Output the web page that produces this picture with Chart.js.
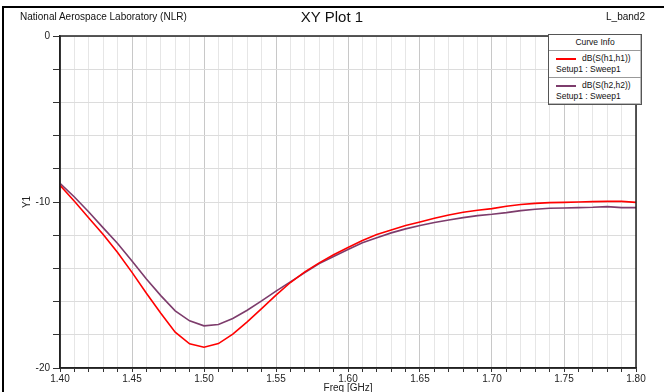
<!DOCTYPE html>
<html>
<head>
<meta charset="utf-8">
<script src="https://cdn.jsdelivr.net/npm/chart.js@4.4.1/dist/chart.umd.min.js"></script>
<style>
  html, body { margin: 0; padding: 0; background: #fff; }
  #wrap { position: relative; width: 664px; height: 392px; overflow: hidden;
          font-family: "Liberation Sans", Arial, sans-serif; }
  #frame { position: absolute; left: 2px; top: 6px; right: -4px; bottom: -4px;
           border-top: 2px solid #000; border-left: 2px solid #000; }
  canvas { position: absolute; left: 0; top: 0; }
  .hdr { position: absolute; white-space: nowrap; color: #111; }
  #org { left: 20px; top: 11px; font-size: 10px; }
  #ttl { left: 0; width: 664px; top: 8px; text-align: center; font-size: 15px; }
  #tag { right: 19px; top: 11px; font-size: 10px; }
  #legend { position: absolute; left: 548px; top: 34px; width: 92px; background: #fff;
            border: 1px solid #555; font-size: 8.5px; color: #111; box-shadow: inset -1px -1px 0 #bbb; }
  #legend .head { text-align: center; height: 15px; line-height: 15px; border-bottom: 1px solid #999; }
  #legend .item { padding: 2px 0 2px 7px; }
  #legend .item + .item { border-top: 1px solid #999; }
  #legend .row1 { height: 11px; line-height: 11px; }
  #legend .row1 span.sw { display: inline-block; width: 20px; height: 2px; vertical-align: middle; margin-right: 6px; }
  #legend .row2 { height: 11px; line-height: 11px; }
</style>
</head>
<body>
<div id="wrap">
  <canvas id="chart" width="664" height="392"></canvas>
  <div id="frame"></div>
  <div class="hdr" id="org">National Aerospace Laboratory (NLR)</div>
  <div class="hdr" id="ttl">XY Plot 1</div>
  <div class="hdr" id="tag">L_band2</div>
  <div id="legend"></div>
</div>
<script>
// ── Dados ─────────────────────────────────────────────────────────────────────
const freq = [1.40, 1.41, 1.42, 1.43, 1.44, 1.45, 1.46, 1.47, 1.48, 1.49,
              1.50, 1.51, 1.52, 1.53, 1.54, 1.55, 1.56, 1.57, 1.58, 1.59,
              1.60, 1.61, 1.62, 1.63, 1.64, 1.65, 1.66, 1.67, 1.68, 1.69,
              1.70, 1.71, 1.72, 1.73, 1.74, 1.75, 1.76, 1.77, 1.78, 1.79, 1.80];

const s11 = [-9.00, -9.96, -10.96, -11.96, -13.04, -14.24, -15.50, -16.70, -17.84, -18.54,
             -18.75, -18.53, -17.96, -17.22, -16.42, -15.61, -14.85, -14.21, -13.67, -13.18,
             -12.74, -12.32, -11.96, -11.68, -11.42, -11.20, -10.98, -10.78, -10.62, -10.50,
             -10.40, -10.26, -10.15, -10.08, -10.04, -10.02, -10.00, -9.98, -9.96, -9.96, -10.02];

const s22 = [-8.88, -9.70, -10.60, -11.56, -12.50, -13.56, -14.64, -15.64, -16.56, -17.16,
             -17.46, -17.38, -17.02, -16.52, -15.96, -15.37, -14.81, -14.25, -13.71, -13.28,
             -12.86, -12.46, -12.16, -11.86, -11.62, -11.42, -11.24, -11.08, -10.94, -10.82,
             -10.74, -10.64, -10.52, -10.44, -10.38, -10.36, -10.34, -10.32, -10.28, -10.34, -10.34];

const seriesNames = ['dB(S(h1,h1))', 'dB(S(h2,h2))'];
const sweepName   = 'Setup1 : Sweep1';
const xTickLabels = [1.40, 1.45, 1.50, 1.55, 1.60, 1.65, 1.70, 1.75, 1.80];
const yTickLabels = [0, -10, -20];

const COLORS = ['#ff0000', '#7d3c6c'];
const FONT = { family: '"Liberation Sans", Arial, sans-serif', size: 10 };

// ── Moldura da área do gráfico ────────────────────────────────────────────────
const plotFrame = {
  id: 'plotFrame',
  afterDatasetsDraw(chart) {
    const { ctx, chartArea: a } = chart;
    ctx.save();
    ctx.strokeStyle = '#222';
    ctx.lineWidth = 1.5;
    ctx.strokeRect(a.left, a.top, a.right - a.left, a.bottom - a.top);
    ctx.restore();
  },
};

const chart = new Chart(document.getElementById('chart'), {
  type: 'line',
  data: {
    labels: freq,
    datasets: [s11, s22].map((vals, i) => ({
      label: seriesNames[i],
      data: freq.map((f, k) => ({ x: f, y: vals[k] })),
      borderColor: COLORS[i],
      borderWidth: 1.6,
      pointRadius: 0,
      tension: 0,
    })),
  },
  options: {
    responsive: false,
    animation: false,
    layout: { padding: { left: 0, top: 36, right: 28, bottom: 0 } },
    plugins: { legend: { display: false }, tooltip: { enabled: false } },
    scales: {
      x: {
        type: 'linear',
        min: 1.4,
        max: 1.8,
        afterFit: s => { s.height = 24; },
        ticks: {
          stepSize: 0.01,
          autoSkip: false,
          maxRotation: 0,
          padding: 1,
          color: '#222',
          font: FONT,
          callback: v => {
            const hit = xTickLabels.find(t => Math.abs(t - v) < 1e-6);
            return hit !== undefined ? hit.toFixed(2) : '';
          },
        },
        grid: {
          tickLength: 4,
          color: c => (Math.round(c.tick.value * 100) % 5 === 0 ? '#c8c8c8' : '#e6e6e6'),
          tickColor: '#333',
        },
        border: { color: '#222', width: 1.5 },
        title: { display: true, text: 'Freq [GHz]', color: '#222', font: FONT, padding: { top: 0, bottom: -2 } },
      },
      y: {
        min: -20,
        max: 0,
        afterFit: s => { s.width = 60; },
        ticks: {
          stepSize: 2,
          autoSkip: false,
          padding: 3,
          color: '#222',
          font: FONT,
          callback: v => (yTickLabels.includes(v) ? String(v) : ''),
        },
        grid: { tickLength: 7, color: '#dcdcdc', tickColor: '#333' },
        border: { color: '#222', width: 1.5 },
        title: { display: true, text: 'Y1', color: '#222', font: FONT, padding: { top: 21 } },
      },
    },
  },
  plugins: [plotFrame],
});

// ── Legenda "Curve Info" ──────────────────────────────────────────────────────
const legendEl = document.getElementById('legend');
legendEl.innerHTML = '<div class="head">Curve Info</div>' +
  chart.data.datasets.map(ds => `
    <div class="item">
      <div class="row1"><span class="sw" style="background:${ds.borderColor}"></span>${ds.label}</div>
      <div class="row2">${sweepName}</div>
    </div>`).join('');
</script>
</body>
</html>
